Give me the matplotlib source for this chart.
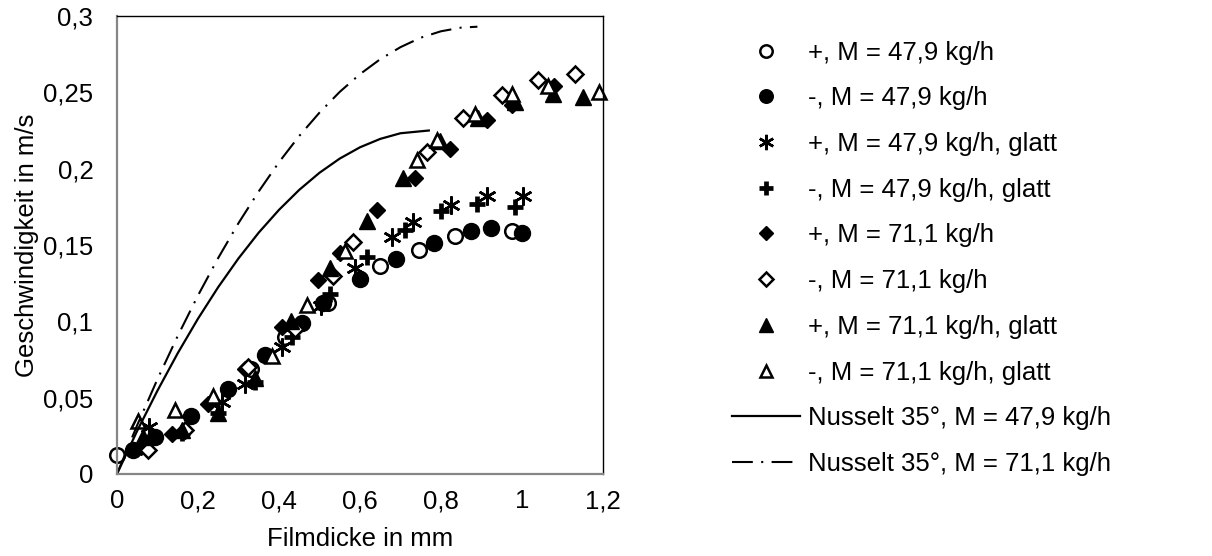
import matplotlib
matplotlib.use("Agg")
import matplotlib.pyplot as plt
from matplotlib.ticker import FuncFormatter, MultipleLocator

plt.rcParams['font.family'] = ['Liberation Sans', 'DejaVu Sans']

# Messwerte: Filmdicke in mm, Geschwindigkeit in m/s
pos_479_x = [0.0, 0.33, 0.415, 0.52, 0.65, 0.745, 0.835, 0.975]
pos_479_y = [0.0125, 0.069, 0.090, 0.112, 0.136, 0.147, 0.156, 0.159]

neg_479_x = [0.04, 0.094, 0.184, 0.275, 0.365, 0.456, 0.509, 0.60, 0.69, 0.783, 0.873, 0.923, 1.0]
neg_479_y = [0.016, 0.024, 0.038, 0.056, 0.078, 0.099, 0.112, 0.128, 0.141, 0.151, 0.159, 0.161, 0.158]

pos_479_gl_x = [0.08, 0.26, 0.316, 0.407, 0.505, 0.588, 0.678, 0.732, 0.826, 0.913, 1.003]
pos_479_gl_y = [0.031, 0.047, 0.059, 0.083, 0.110, 0.135, 0.155, 0.165, 0.176, 0.182, 0.182]

neg_479_gl_x = [0.07, 0.16, 0.25, 0.341, 0.431, 0.526, 0.617, 0.711, 0.80, 0.89, 0.983]
neg_479_gl_y = [0.020, 0.027, 0.040, 0.060, 0.090, 0.118, 0.142, 0.160, 0.172, 0.177, 0.175]

pos_711_x = [0.06, 0.135, 0.225, 0.316, 0.407, 0.497, 0.551, 0.641, 0.735, 0.822, 0.913, 0.975, 1.08]
pos_711_y = [0.018, 0.026, 0.046, 0.069, 0.096, 0.127, 0.145, 0.173, 0.194, 0.213, 0.232, 0.242, 0.254]

neg_711_x = [0.077, 0.168, 0.324, 0.44, 0.534, 0.584, 0.765, 0.855, 0.95, 1.04, 1.131]
neg_711_y = [0.016, 0.029, 0.070, 0.095, 0.130, 0.152, 0.211, 0.233, 0.248, 0.258, 0.262]

pos_711_gl_x = [0.065, 0.16, 0.25, 0.341, 0.43, 0.526, 0.617, 0.707, 0.798, 0.892, 0.983, 1.077, 1.15]
pos_711_gl_y = [0.024, 0.029, 0.040, 0.063, 0.100, 0.135, 0.166, 0.194, 0.218, 0.233, 0.244, 0.249, 0.247]

neg_711_gl_x = [0.053, 0.143, 0.238, 0.382, 0.468, 0.563, 0.74, 0.789, 0.884, 0.975, 1.065, 1.19]
neg_711_gl_y = [0.035, 0.042, 0.051, 0.077, 0.111, 0.146, 0.206, 0.219, 0.236, 0.249, 0.254, 0.250]

# Nusselt-Profile
nus_479_x = [0, 0.05, 0.1, 0.15, 0.2, 0.25, 0.3, 0.35, 0.4, 0.45, 0.5, 0.55, 0.6, 0.65, 0.7, 0.77]
nus_479_y = [0, 0.0283, 0.0546, 0.0791, 0.1017, 0.1224, 0.1412, 0.1581, 0.1730, 0.1861,
             0.1973, 0.2066, 0.2140, 0.2195, 0.2232, 0.225]
nus_711_x = [0, 0.05, 0.1, 0.15, 0.2, 0.25, 0.3, 0.35, 0.4, 0.45, 0.5, 0.55, 0.6, 0.65,
             0.7, 0.75, 0.8, 0.85, 0.89]
nus_711_y = [0, 0.0320, 0.0621, 0.0904, 0.1169, 0.1415, 0.1643, 0.1851, 0.2042, 0.2214,
             0.2367, 0.2503, 0.2619, 0.2717, 0.2796, 0.2858, 0.2900, 0.2924, 0.293]

labels = ["+, M = 47,9 kg/h", "-, M = 47,9 kg/h",
          "+, M = 47,9 kg/h, glatt", "-, M = 47,9 kg/h, glatt",
          "+, M = 71,1 kg/h", "-, M = 71,1 kg/h",
          "+, M = 71,1 kg/h, glatt", "-, M = 71,1 kg/h, glatt",
          "Nusselt 35°, M = 47,9 kg/h", "Nusselt 35°, M = 71,1 kg/h"]

FS = 18.5

fig = plt.figure(figsize=(12.12, 5.56), dpi=100)
ax = fig.add_axes([0.0965, 0.1475, 0.401, 0.8237])

mk = dict(linestyle='none', color='black', clip_on=False)
ax.plot(pos_479_x, pos_479_y, marker='o', ms=10.5, mfc='white', mew=1.8, label=labels[0], **mk)
ax.plot(neg_479_x, neg_479_y, marker='o', ms=11.5, mfc='black', mew=1, label=labels[1], **mk)
ax.plot(pos_479_gl_x, pos_479_gl_y, marker=(6, 2, 0), ms=13, mew=1.8, label=labels[2], **mk)
ax.plot(neg_479_gl_x, neg_479_gl_y, marker='+', ms=12, mew=3.4, label=labels[3], **mk)
ax.plot(pos_711_x, pos_711_y, marker='D', ms=8, mfc='black', mew=1, label=labels[4], **mk)
ax.plot(neg_711_x, neg_711_y, marker='D', ms=8.5, mfc='white', mew=1.8, label=labels[5], **mk)
ax.plot(pos_711_gl_x, pos_711_gl_y, marker='^', ms=11.5, mfc='black', mew=1, label=labels[6], **mk)
ax.plot(neg_711_gl_x, neg_711_gl_y, marker='^', ms=10.5, mfc='white', mew=1.8, label=labels[7], **mk)

ax.plot(nus_479_x, nus_479_y, color='black', lw=1.6, label=labels[8])
ax.plot(nus_711_x, nus_711_y, color='black', lw=1.5, linestyle=(0, (10, 4, 1, 4)), label=labels[9])

ax.set_xlim(0, 1.2)
ax.set_ylim(0, 0.3)
ax.xaxis.set_major_locator(MultipleLocator(0.2))
ax.yaxis.set_major_locator(MultipleLocator(0.05))
comma = FuncFormatter(lambda v, p: '{:g}'.format(round(v, 3)).replace('.', ','))
ax.xaxis.set_major_formatter(comma)
ax.yaxis.set_major_formatter(comma)
ax.tick_params(length=0, labelsize=FS)
ax.tick_params(axis='x', pad=11)
ax.tick_params(axis='y', pad=17)

for side in ('left', 'bottom'):
    ax.spines[side].set_color('#868686')
    ax.spines[side].set_linewidth(1.6)
for side in ('top', 'right'):
    ax.spines[side].set_color('black')
    ax.spines[side].set_linewidth(1.0)

ax.set_xlabel("Filmdicke in mm", fontsize=FS, labelpad=10)
ax.set_ylabel("Geschwindigkeit in m/s", fontsize=FS, labelpad=3)

ax.legend(loc='upper left', bbox_to_anchor=(0.604, 0.927), bbox_transform=fig.transFigure,
          frameon=False, fontsize=FS, handlelength=2.65, handletextpad=0.3,
          labelspacing=0.845, borderpad=0, borderaxespad=0, markerscale=0.85)

fig.savefig("out.png", dpi=100)
